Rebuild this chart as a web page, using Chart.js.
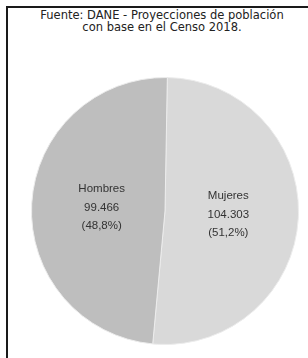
<!DOCTYPE html>
<html>
<head>
<meta charset="utf-8">
<script src="https://cdn.jsdelivr.net/npm/chart.js@4"></script>
<style>
  html, body { margin: 0; padding: 0; background: #fff; }
  #wrap { position: relative; width: 308px; height: 358px; overflow: hidden; }
  #frame {
    position: absolute; left: 6px; top: 6px; width: 400px; height: 400px;
    border-left: 2px solid #1a1a1a; border-top: 2px solid #1a1a1a;
  }
  #title {
    position: absolute; left: 8px; top: 10px; width: 308px; text-align: center;
    font-family: "DejaVu Sans", Verdana, sans-serif; font-size: 11.5px; line-height: 11.5px; color: #222;
    white-space: nowrap;
  }
  canvas { position: absolute; left: 0; top: 0; }
</style>
</head>
<body>
<div id="wrap">
  <div id="frame"></div>
  <div id="title">Fuente: DANE - Proyecciones de población<br>con base en el Censo 2018.</div>
  <canvas id="pieChart" width="308" height="358"></canvas>
</div>
<script>
// datos
const categories = ["Mujeres", "Hombres"];
const population = [104303, 99466];
const valueLabels = ["104.303", "99.466"];
const percentLabels = ["(51,2%)", "(48,8%)"];

// etiquetas dentro de cada porción
const sliceLabels = {
    id: "sliceLabels",
    afterDatasetsDraw(chart) {
        const ctx = chart.ctx;
        const meta = chart.getDatasetMeta(0);
        ctx.save();
        ctx.font = "11.5px 'Liberation Sans', Arial, sans-serif";
        ctx.fillStyle = "#333";
        ctx.textAlign = "center";
        ctx.textBaseline = "middle";
        meta.data.forEach((arc, i) => {
            const p = arc.tooltipPosition();
            const cx = arc.x + (p.x - arc.x) * 0.95;
            const cy = arc.y + (p.y - arc.y) * 0.95;
            const lines = [categories[i], valueLabels[i], percentLabels[i]];
            lines.forEach((t, k) => {
                ctx.fillText(t, cx, cy + (k - 1) * 18.5);
            });
        });
        ctx.restore();
    }
};

const ctx = document.getElementById("pieChart").getContext("2d");
new Chart(ctx, {
    type: "pie",
    data: {
        labels: categories,
        datasets: [{
            data: population,
            backgroundColor: ["#d9d9d9", "#bebebe"],
            borderColor: "#ececec",
            borderWidth: 1
        }]
    },
    options: {
        responsive: false,
        animation: false,
        rotation: 1,
        layout: { padding: { left: 31, right: 9, top: 77, bottom: 13 } },
        plugins: {
            legend: { display: false },
            tooltip: { enabled: false }
        }
    },
    plugins: [sliceLabels]
});
</script>
</body>
</html>
